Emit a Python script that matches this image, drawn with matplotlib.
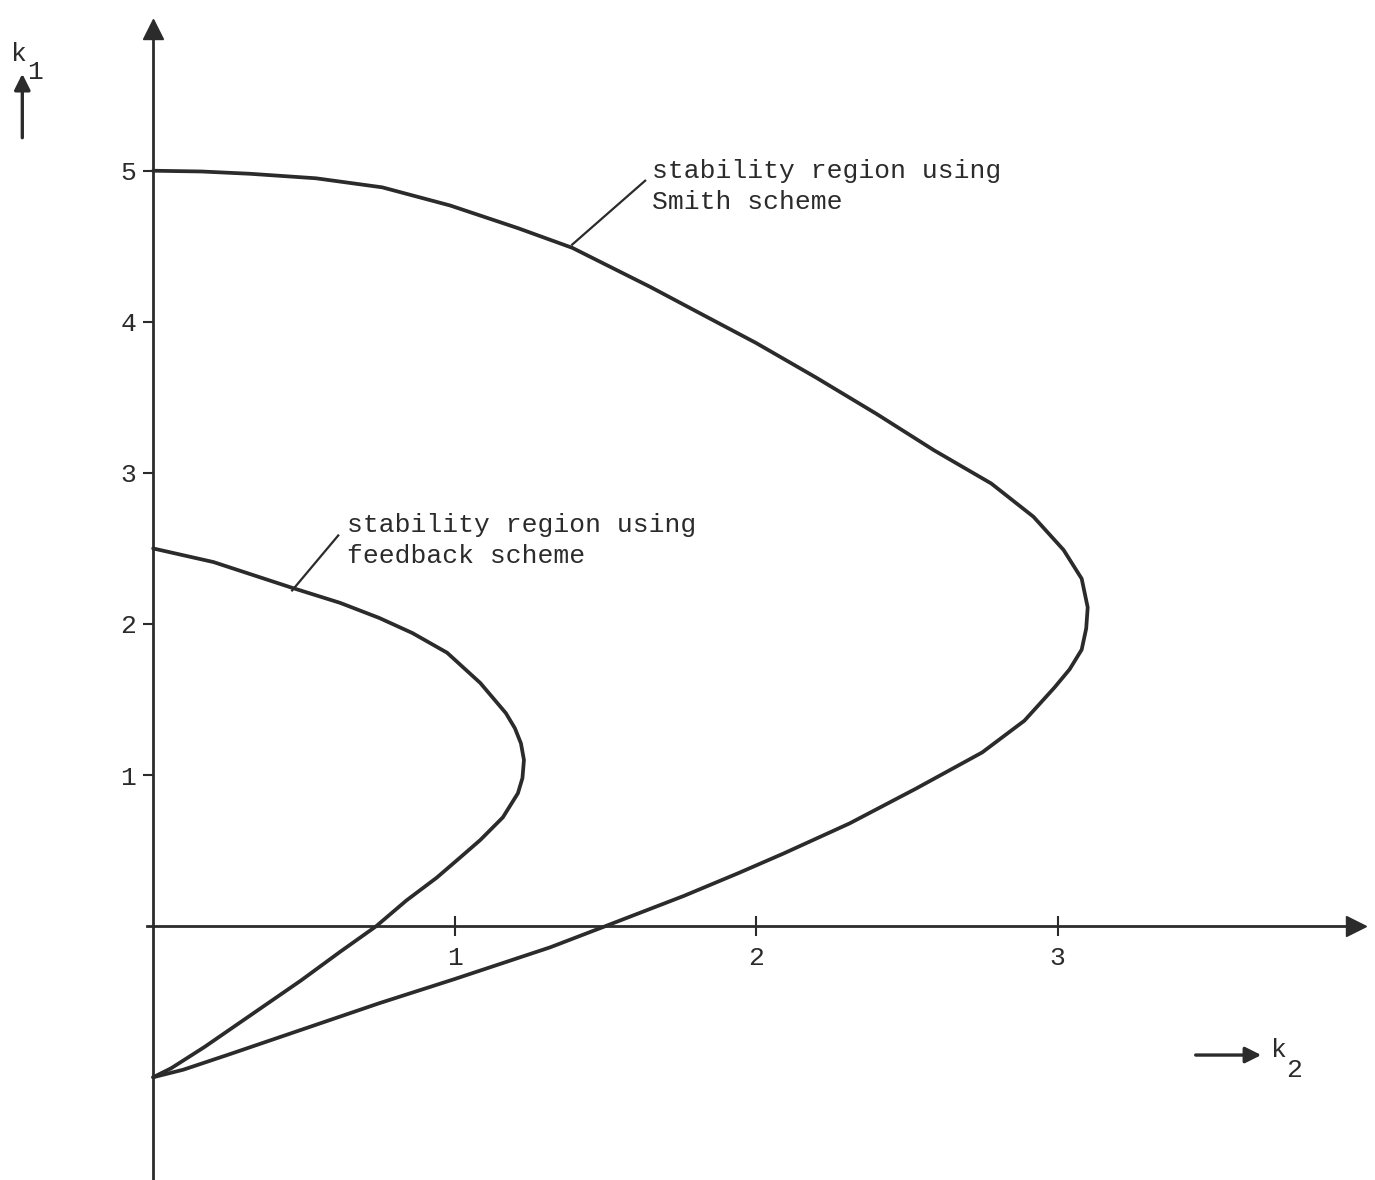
import matplotlib.pyplot as plt

# curves, (k2, k1) pairs
smith_k2 = [0.00, 0.16, 0.32, 0.54, 0.76, 0.985, 1.21, 1.39, 1.65, 1.82, 2.00, 2.20,
            2.40, 2.59, 2.78, 2.92, 3.02, 3.08, 3.10, 3.095, 3.08, 3.04, 2.99, 2.89,
            2.75, 2.53, 2.31, 2.09, 1.94, 1.76, 1.50, 1.317, 1.00, 0.75, 0.50, 0.25,
            0.10, 0.00]
smith_k1 = [5.00, 4.995, 4.98, 4.95, 4.89, 4.77, 4.62, 4.49, 4.23, 4.05, 3.86, 3.63,
            3.39, 3.15, 2.93, 2.71, 2.49, 2.30, 2.11, 1.97, 1.83, 1.70, 1.58, 1.36,
            1.15, 0.91, 0.68, 0.48, 0.35, 0.20, 0.00, -0.14, -0.35, -0.51, -0.68, -0.85,
            -0.95, -1.00]

feedback_k2 = [0.00, 0.20, 0.46, 0.62, 0.75, 0.86, 0.975, 1.085, 1.17, 1.20, 1.22,
               1.23, 1.225, 1.21, 1.16, 1.085, 1.01, 0.94, 0.84, 0.74, 0.62, 0.49,
               0.33, 0.17, 0.06, 0.00]
feedback_k1 = [2.50, 2.41, 2.24, 2.14, 2.04, 1.94, 1.81, 1.61, 1.41, 1.31, 1.21,
               1.10, 0.98, 0.88, 0.72, 0.57, 0.44, 0.32, 0.17, 0.00, -0.17, -0.36,
               -0.58, -0.80, -0.94, -1.00]

x_ticks = [1, 2, 3]
y_ticks = [1, 2, 3, 4, 5]

ink = "#2b2b2b"
font = "Liberation Mono"

fig = plt.figure(figsize=(13.75, 11.8), dpi=100)
ax = fig.add_axes([0, 0, 1, 1])
ax.set_xlim(-0.508, 4.053)
ax.set_ylim(-1.68, 6.13)

# axes through the origin
ax.spines["left"].set_position("zero")
ax.spines["bottom"].set_position("zero")
ax.spines["right"].set_visible(False)
ax.spines["top"].set_visible(False)
ax.spines["left"].set_bounds(-1.68, 5.94)
ax.spines["bottom"].set_bounds(-0.02, 3.98)
for side in ["left", "bottom"]:
    ax.spines[side].set_color(ink)
    ax.spines[side].set_linewidth(2.0)
ax.plot(0, 5.94, marker="^", ms=15, color=ink, clip_on=False)
ax.plot(3.99, 0, marker=">", ms=15, color=ink, clip_on=False)

ax.set_xticks(x_ticks)
ax.set_yticks(y_ticks)
ax.set_xticklabels([str(t) for t in x_ticks], fontfamily=font, fontsize=19)
ax.set_yticklabels([str(t) for t in y_ticks], fontfamily=font, fontsize=19)
ax.tick_params(axis="x", direction="inout", length=14, width=1.5, pad=7, colors=ink)
ax.tick_params(axis="y", direction="out", length=7, width=1.5, pad=5, colors=ink)

for xs, ys in [(smith_k2, smith_k1), (feedback_k2, feedback_k1)]:
    ax.plot(xs, ys, color=ink, lw=2.7, solid_capstyle="round", solid_joinstyle="round")

# labels with leader lines
ax.text(1.655, 4.894, "stability region using\nSmith scheme", fontfamily=font,
        fontsize=19, color=ink, ha="left", va="center", linespacing=1.35)
ax.plot([1.632, 1.390], [4.934, 4.511], color=ink, lw=1.6)
ax.text(0.643, 2.553, "stability region using\nfeedback scheme", fontfamily=font,
        fontsize=19, color=ink, ha="left", va="center", linespacing=1.35)
ax.plot([0.614, 0.461], [2.586, 2.222], color=ink, lw=1.6)

# axis names
ax.annotate("", xy=(-0.434, 5.66), xytext=(-0.434, 5.20),
            arrowprops=dict(arrowstyle="-|>", color=ink, lw=2.4, mutation_scale=24))
ax.text(-0.445, 5.77, "k", fontfamily=font, fontsize=19, color=ink, ha="center", va="center")
ax.text(-0.392, 5.655, "1", fontfamily=font, fontsize=19, color=ink, ha="center", va="center")
ax.annotate("", xy=(3.685, -0.853), xytext=(3.449, -0.853),
            arrowprops=dict(arrowstyle="-|>", color=ink, lw=2.4, mutation_scale=24))
ax.text(3.735, -0.82, "k", fontfamily=font, fontsize=19, color=ink, ha="center", va="center")
ax.text(3.785, -0.955, "2", fontfamily=font, fontsize=19, color=ink, ha="center", va="center")

fig.savefig("out.png", dpi=100)
